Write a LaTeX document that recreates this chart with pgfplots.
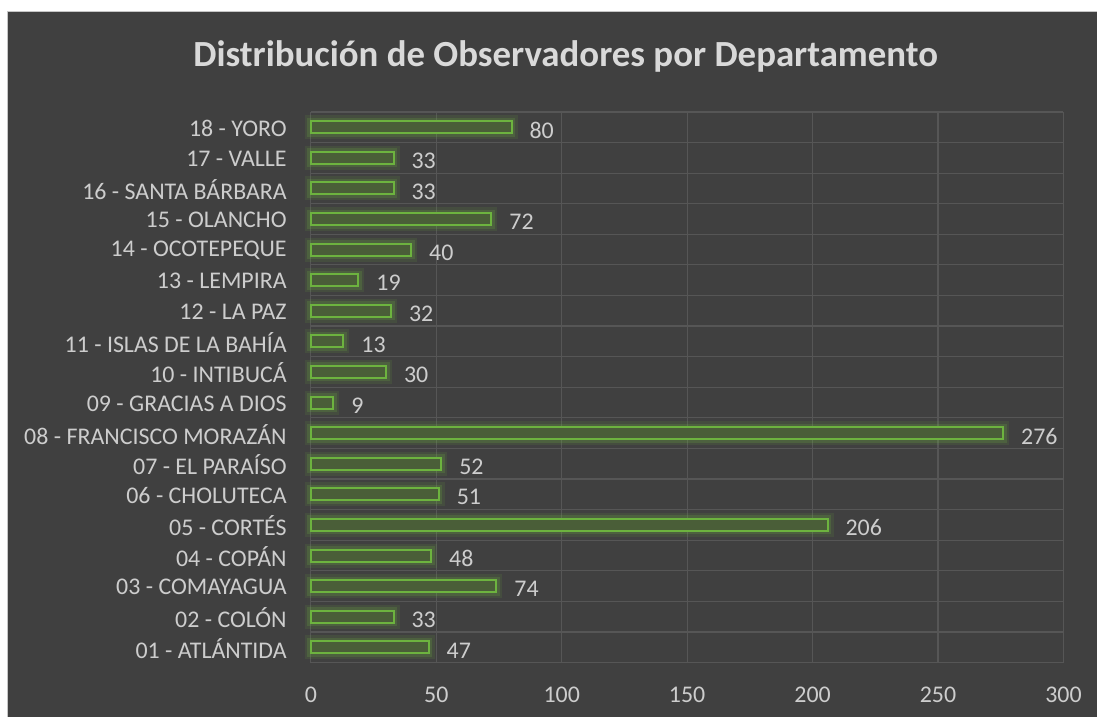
\documentclass[border=0pt]{standalone}
\usepackage{pgfplots}
\pgfplotsset{compat=1.18}
\usepackage{fontspec}
\setmainfont{Carlito}
\definecolor{bg}{HTML}{404040}
\definecolor{gridc}{HTML}{565656}
\definecolor{txt}{HTML}{D9D9D9}
\definecolor{ticktxt}{HTML}{CDCDCD}
\definecolor{barfill}{HTML}{4A5E38}
\definecolor{barline}{HTML}{6DB33F}
\pgfplotstableread{
y v
1 47
2 33
3 74
4 48
5 206
6 51
7 52
8 276
9 9
10 30
11 13
12 32
13 19
14 40
15 72
16 33
17 33
18 80
}\data
\begin{document}
\begin{tikzpicture}[x=1bp,y=1bp]
\fill[white] (0,0) rectangle (1098,717);
\fill[bg] (8,0) rectangle (1098,705);
\draw[gray!45,line width=1.2bp] (7.4,0) -- (7.4,705.6) -- (1098,705.6);
\node[font=\fontsize{37}{40}\selectfont\bfseries, text=txt, anchor=base, inner sep=0pt] at (566,650) {Distribución de Observadores por Departamento};
\begin{axis}[
  at={(311bp,54bp)}, anchor=south west,
  scale only axis, width=753bp, height=551bp,
  xmin=0, xmax=300, ymin=0.5, ymax=18.5,
  xtick={0,50,...,300},
  ytick={1,...,18},
  minor ytick={0.5,1.5,...,18.5},
  yticklabels={01 - ATLÁNTIDA,02 - COLÓN,03 - COMAYAGUA,04 - COPÁN,05 - CORTÉS,06 - CHOLUTECA,07 - EL PARAÍSO,08 - FRANCISCO MORAZÁN,09 - GRACIAS A DIOS,10 - INTIBUCÁ,11 - ISLAS DE LA BAHÍA,12 - LA PAZ,13 - LEMPIRA,14 - OCOTEPEQUE,15 - OLANCHO,16 - SANTA BÁRBARA,17 - VALLE,18 - YORO},
  xmajorgrids, yminorgrids,
  grid style={gridc, line width=1.2bp},
  minor grid style={gridc, line width=1.2bp},
  axis line style={draw=none},
  major tick length=0pt, minor tick length=0pt,
  tick label style={text=ticktxt, font=\fontsize{24}{26}\selectfont, inner sep=0pt},
  yticklabel style={anchor=east, xshift=-24bp, yshift=-1bp},
  xticklabel style={anchor=center, yshift=-32bp},
  /pgf/number format/assume math mode=true,
  xbar, bar width=12bp, bar shift=0pt,
  clip=false,
]
\addplot[draw=barline, draw opacity=0.12, line width=12bp, fill=none] table[x=v,y=y]{\data};
\addplot[draw=barline, draw opacity=0.2, line width=7bp, fill=none] table[x=v,y=y]{\data};
\addplot[draw=barline, line width=2bp, fill=barfill,
  nodes near coords, nodes near coords align={horizontal},
  every node near coord/.append style={text=ticktxt, font=\fontsize{24}{26}\selectfont, inner sep=0pt, anchor=west, xshift=17bp, yshift=-3bp}
] table[x=v,y=y]{\data};
\end{axis}
\end{tikzpicture}
\end{document}
